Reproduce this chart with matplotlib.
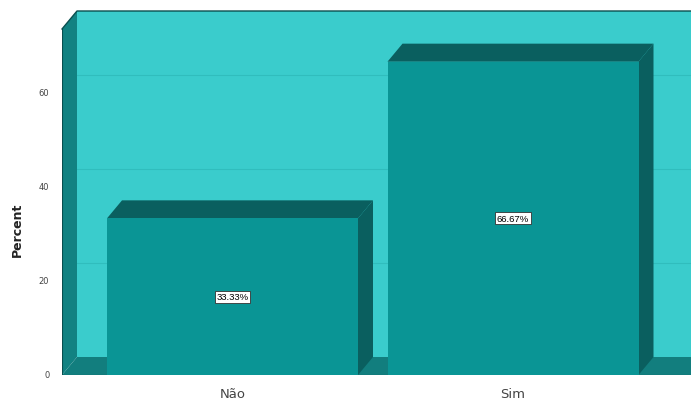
import matplotlib
matplotlib.use("Agg")
import matplotlib.pyplot as plt
from matplotlib.patches import Polygon, Rectangle

categories = ["Não", "Sim"]
percents = [33.33, 66.67]
labels = ["33.33%", "66.67%"]
yticks = [0, 20, 40, 60]

W, H = 691, 402
fig = plt.figure(figsize=(W / 100, H / 100), dpi=100)
fig.patch.set_facecolor("white")

L, R, B, T = 62, 691, 376, 12
ax = fig.add_axes([L / W, (H - B) / H, (R - L) / W, (B - T) / H])
px_per_unit = 4.7
ymax = (B - T) / px_per_unit
cat_px = 280.5
c0_px = 232.5
x0 = (L - c0_px) / cat_px
x1 = (R - c0_px) / cat_px
ax.set_xlim(x0, x1)
ax.set_ylim(0, ymax)
ax.axis("off")

dx = 15 / cat_px
dy = 18 / px_per_unit

wall = "#3acccc"
side_wall = "#128282"
floor = "#127e7e"
front = "#0a9595"
dark = "#0a5f5f"
grid = "#30bdbd"

ax.add_patch(Rectangle((x0 + dx, dy), x1 - x0 - dx, ymax - dy, facecolor=wall, edgecolor="none", zorder=1))
for t in yticks[1:]:
    ax.plot([x0 + dx, x1], [t + dy, t + dy], color=grid, lw=0.8, zorder=1.5)
ax.add_patch(Polygon([(x0, 0), (x0 + dx, dy), (x0 + dx, ymax), (x0, ymax - dy)], closed=True,
                     facecolor=side_wall, edgecolor="none", zorder=2))
ax.add_patch(Polygon([(x0, 0), (x1, 0), (x1, dy), (x0 + dx, dy)], closed=True,
                     facecolor=floor, edgecolor="none", zorder=2))
ax.plot([x0, x0 + dx, x1], [ymax - dy, ymax, ymax], color="#0a4f4f", lw=1.0, zorder=3, clip_on=False)
ax.plot([x0, x0], [0, ymax - dy], color="#0a4f4f", lw=0.8, zorder=3)
ax.plot([x0, x1], [0, 0], color="#0a4f4f", lw=0.8, zorder=3)

bw = 251 / cat_px
for i, (v, lab) in enumerate(zip(percents, labels)):
    l, r = i - bw / 2, i + bw / 2
    ax.add_patch(Polygon([(r, 0), (r + dx, dy), (r + dx, v + dy), (r, v)], closed=True,
                         facecolor=dark, edgecolor="none", zorder=4))
    ax.add_patch(Polygon([(l, v), (r, v), (r + dx, v + dy), (l + dx, v + dy)], closed=True,
                         facecolor=dark, edgecolor="none", zorder=4))
    ax.add_patch(Rectangle((l, 0), bw, v, facecolor=front, edgecolor="none", zorder=5))
    ax.text(i, v / 2, lab, ha="center", va="center", fontsize=6.8, color="black", zorder=6,
            family="Liberation Sans",
            bbox=dict(boxstyle="square,pad=0.15", facecolor="white", edgecolor="#333333", lw=0.6))
    ax.text(i, -4.0, categories[i], ha="center", va="center", fontsize=9.5, color="#444444")

for t in yticks:
    ax.text(x0 - 0.045, t, str(t), ha="right", va="center", fontsize=6, color="#444444")

fig.text(17 / W, 1 - 230 / H, "Percent", rotation=90, ha="center", va="center",
         fontsize=9, fontweight="bold", color="#222222")

fig.savefig("out.png", dpi=100, facecolor="white")
